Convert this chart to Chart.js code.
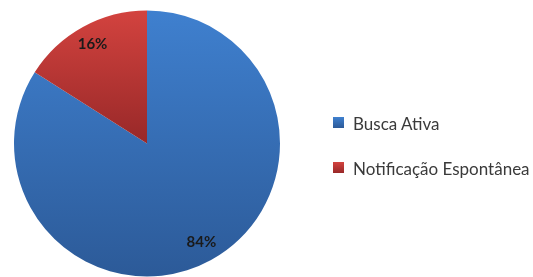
<!DOCTYPE html>
<html><head><meta charset="utf-8">
<script src="https://cdn.jsdelivr.net/npm/chart.js@4/dist/chart.umd.min.js"></script>
<style>
html,body{margin:0;padding:0;background:#fff;}
#wrap{position:relative;width:533px;height:277px;}
#c{position:absolute;left:0;top:0;}
.leg{position:absolute;left:333px;font-family:Lato,"Open Sans",sans-serif;font-size:17px;color:#3a3a3a;white-space:nowrap;}
.leg span.box{position:absolute;left:0;width:11px;height:11px;}
.leg span.txt{position:absolute;left:20px;top:-4px;}
</style></head>
<body><div id="wrap"><canvas id="c" width="533" height="277"></canvas></div>
<script>
const categories = ["Busca Ativa", "Notificação Espontânea"];
const values = [84, 16];
const valueLabels = ["84%", "16%"];
const topColors = ["#3f80cf", "#d3433f"];
const bottomColors = ["#2c5a98", "#982828"];

function sliceGradient(ctx) {
  const chart = ctx.chart;
  const area = chart.chartArea;
  if (!area) return topColors[ctx.dataIndex];
  const i = ctx.dataIndex;
  const cy = (area.top + area.bottom) / 2;
  const y1 = i === 1 ? cy : area.bottom;
  const g = chart.ctx.createLinearGradient(0, area.top, 0, y1);
  g.addColorStop(0, topColors[i]);
  g.addColorStop(1, bottomColors[i]);
  return g;
}

const labelPlugin = {
  id: 'sliceLabels',
  afterDatasetsDraw(chart) {
    const meta = chart.getDatasetMeta(0);
    const c = chart.ctx;
    c.save();
    c.font = 'bold 15px Lato, "Open Sans", sans-serif';
    c.fillStyle = '#1a1a1a';
    c.textAlign = 'center';
    c.textBaseline = 'middle';
    meta.data.forEach((arc, i) => {
      const p = arc.getProps(['x','y','startAngle','endAngle','outerRadius'], true);
      const mid = (p.startAngle + p.endAngle) / 2;
      const r = p.outerRadius * 0.85;
      c.fillText(valueLabels[i], p.x + Math.cos(mid) * r, p.y + Math.sin(mid) * r);
    });
    c.restore();
  }
};

new Chart(document.getElementById('c'), {
  type: 'pie',
  data: {
    labels: categories,
    datasets: [{
      data: values,
      backgroundColor: sliceGradient,
      borderWidth: 0
    }]
  },
  options: {
    responsive: false,
    animation: false,
    layout: { padding: { left: 14, right: 253, top: 10, bottom: 0 } },
    plugins: { legend: { display: false }, tooltip: { enabled: false } }
  },
  plugins: [labelPlugin]
});

// HTML legend built from the data arrays
const wrap = document.getElementById('wrap');
const legendTops = [117, 162];
categories.forEach((name, i) => {
  const d = document.createElement('div');
  d.className = 'leg';
  d.style.top = legendTops[i] + 'px';
  const b = document.createElement('span');
  b.className = 'box';
  b.style.background = 'linear-gradient(' + topColors[i] + ',' + bottomColors[i] + ')';
  const t = document.createElement('span');
  t.className = 'txt';
  t.textContent = name;
  d.appendChild(b); d.appendChild(t);
  wrap.appendChild(d);
});
</script>
</body></html>
